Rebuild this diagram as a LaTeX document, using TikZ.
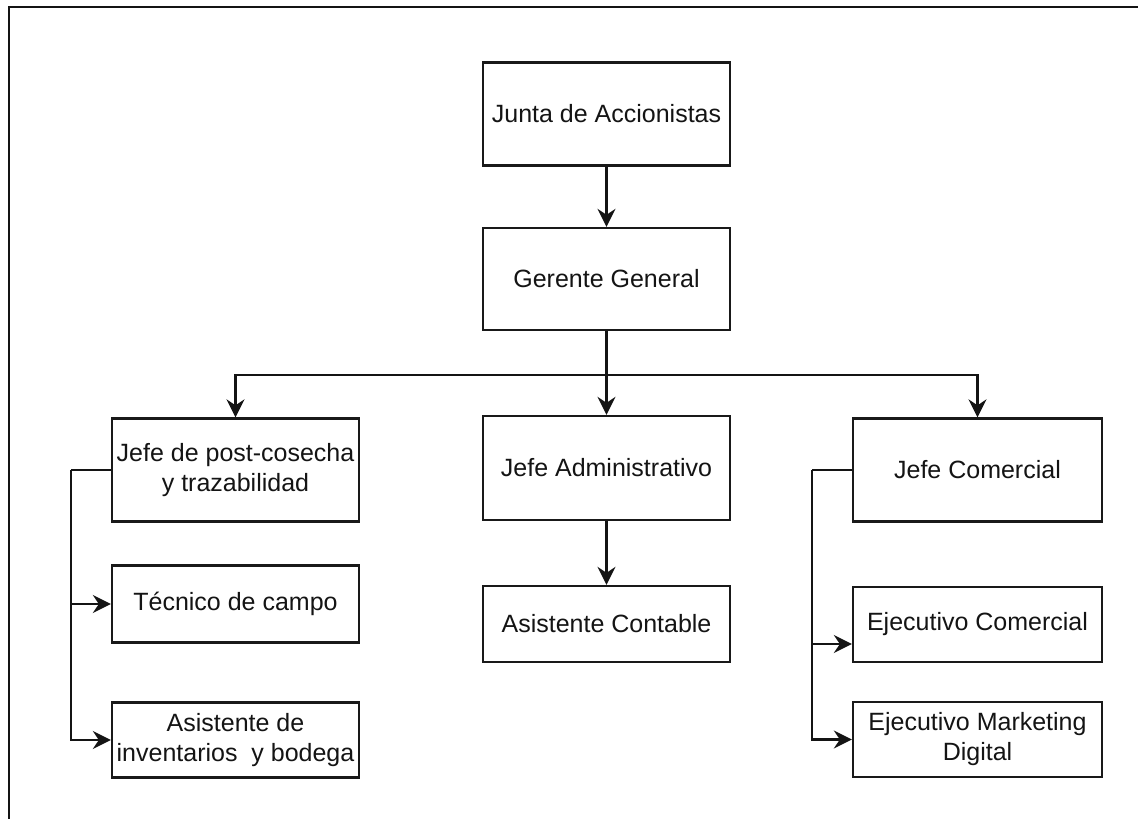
\documentclass[tikz,border=0pt]{standalone}
\usepackage{fontspec}
\setmainfont{Liberation Sans}
\usetikzlibrary{arrows.meta,calc}

\tikzset{
  unit/.style={draw=black!90, line width=2.3pt, fill=white, rectangle,
    align=center, inner sep=0pt, text=black!92,
    font=\fontsize{25}{30}\selectfont},
  wide/.style={unit, minimum width=247pt},
  wider/.style={unit, minimum width=249pt},
  link/.style={draw=black!92, line width=2.3pt},
  arr/.style={link, -{Stealth[length=18pt,width=18pt,inset=6pt]}},
}

\begin{document}
\begin{tikzpicture}[x=1pt, y=-1pt]
  \useasboundingbox (0,0) rectangle (1138,819);
  \fill[white] (0,0) rectangle (1138,819);

  % page frame (left and top edges)
  \draw[link] (9,819) -- (9,7) -- (1138,7);

  % central column
  \node[wide, minimum height=103pt] (junta)    at (606.5,114)   {Junta de Accionistas};
  \node[wide, minimum height=102pt] (gerente)  at (606.5,279)   {Gerente General};
  \node[wide, minimum height=104pt] (admin)    at (606.5,468)   {Jefe Administrativo};
  \node[wide, minimum height=76pt]  (contable) at (606.5,624)   {Asistente Contable};

  % left column
  \node[wide, minimum height=103pt] (post)     at (235.5,470)   {Jefe de post-cosecha\\y trazabilidad};
  \node[wide, minimum height=77pt]  (tecnico)  at (235.5,604)   {Técnico de campo};
  \node[wide, minimum height=75pt]  (invent)   at (235.5,740)   {Asistente de\\inventarios \ y bodega};

  % right column
  \node[wider, minimum height=103pt] (comercial) at (977.5,470)   {Jefe Comercial};
  \node[wider, minimum height=75pt]  (ejcom)     at (977.5,624.5) {Ejecutivo Comercial};
  \node[wider, minimum height=75pt]  (mkt)       at (977.5,739.5) {Ejecutivo Marketing\\Digital};

  % routing points
  \coordinate (bus)    at (606.5,375);
  \coordinate (lspine) at (70.7,470);
  \coordinate (rspine) at (812.3,470);

  % connectors
  \draw[arr] (junta.south) -- (gerente.north);
  \draw[link] (gerente.south) -- (bus);
  \draw[arr] (bus) -- (admin.north);
  \draw[arr] (bus) -| (post.north);
  \draw[arr] (bus) -| (comercial.north);
  \draw[arr] (admin.south) -- (contable.north);

  \draw[link] (post.west) -- (lspine);
  \draw[arr] (lspine) |- (tecnico.west);
  \draw[arr] (lspine) |- (invent.west);

  \draw[link] (comercial.west) -- (rspine);
  \draw[arr] (rspine) |- ([yshift=-19.5pt]ejcom.west);
  \draw[arr] (rspine) |- (mkt.west);
\end{tikzpicture}
\end{document}
